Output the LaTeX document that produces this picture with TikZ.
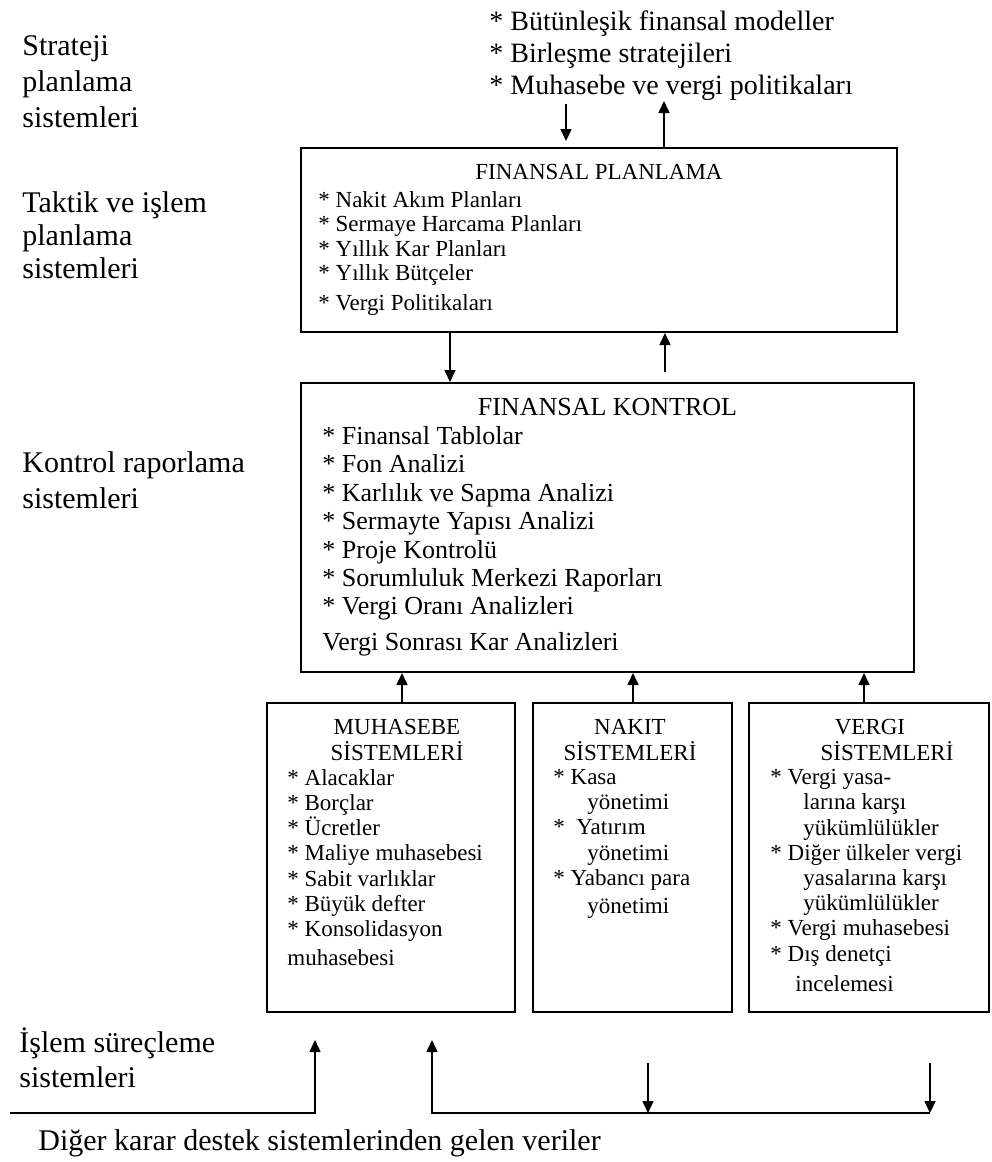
\documentclass[tikz,border=0pt]{standalone}
\usepackage{fontspec}
\setmainfont{Liberation Serif}
\usetikzlibrary{arrows.meta}

\tikzset{
  box/.style={draw, line width=1pt, inner sep=0pt},
  arr/.style={-{Triangle[length=6pt,width=5.5pt]}, line width=0.8pt},
  items/.style={align=left, anchor=north west, inner sep=0pt},
  side/.style={align=left, anchor=west, inner sep=0pt, font=\fontsize{15}{18}\selectfont},
  head/.style={align=center, inner sep=0pt},
  smalltext/.style={font=\fontsize{11.5}{12.6}\selectfont},
}

\begin{document}
\begin{tikzpicture}[x=0.5pt, y=-0.5pt]
    \useasboundingbox (0,0) rectangle (991,1162);

    % Levels on the left
    \node[side] (lvlstrat) at (22,82) {Strateji\\planlama\\sistemleri};
    \node[side, font=\fontsize{15}{16.5}\selectfont] (lvltact) at (22,235) {Taktik ve işlem\\planlama\\sistemleri};
    \node[side] (lvlctrl) at (22,480) {Kontrol raporlama\\sistemleri};
    \node[side, font=\fontsize{15}{17.5}\selectfont] (lvlproc) at (19,1058) {İşlem süreçleme\\sistemleri};

    % Strategic inputs
    \node[items, font=\fontsize{14}{16}\selectfont] (strat) at (489,10)
        {* Bütünleşik finansal modeller\\* Birleşme stratejileri\\* Muhasebe ve vergi politikaları};

    % Financial planning
    \node[box, minimum width=298pt, minimum height=92pt] (plan) at (599,240) {};
    \node[head, font=\fontsize{11.5}{12}\selectfont] (planhead) at (599,172) {FINANSAL PLANLAMA};
    \node[items, font=\fontsize{11.5}{12.2}\selectfont] (planlist) at (318,191)
        {* Nakit Akım Planları\\* Sermaye Harcama Planları\\* Yıllık Kar Planları\\* Yıllık Bütçeler\\[3pt]* Vergi Politikaları};

    % Financial control
    \node[box, minimum width=306.5pt, minimum height=144.5pt] (ctrl) at (607.5,527.5) {};
    \node[head, font=\fontsize{13}{14}\selectfont] (ctrlhead) at (607.5,407) {FINANSAL KONTROL};
    \node[items, font=\fontsize{13}{14.2}\selectfont] (ctrllist) at (322,426)
        {* Finansal Tablolar\\* Fon Analizi\\* Karlılık ve Sapma Analizi\\* Sermayte Yapısı Analizi\\* Proje Kontrolü\\* Sorumluluk Merkezi Raporları\\* Vergi Oranı Analizleri\\[3.4pt]Vergi Sonrası Kar Analizleri};

    % Transaction systems
    \node[box, minimum width=124pt, minimum height=154.5pt] (muh) at (391,857.5) {};
    \node[head, smalltext] (muhhead) at (397,740) {MUHASEBE\\SİSTEMLERİ};
    \node[items, smalltext] (muhlist) at (287,769)
        {* Alacaklar\\* Borçlar\\* Ücretler\\* Maliye muhasebesi\\* Sabit varlıklar\\* Büyük defter\\* Konsolidasyon\\[2pt]muhasebesi};

    \node[box, minimum width=99.5pt, minimum height=154.5pt] (cash) at (632.5,857.5) {};
    \node[head, smalltext] (cashhead) at (630,740) {NAKIT\\SİSTEMLERİ};
    \node[items, smalltext] (cashlist) at (553,769)
        {* Kasa\\\hspace*{17pt}yönetimi\\*~ Yatırım\\\hspace*{17pt}yönetimi\\* Yabancı para\\[1.5pt]\hspace*{17pt}yönetimi};

    \node[box, minimum width=120pt, minimum height=154.5pt] (tax) at (869,857.5) {};
    \node[head, smalltext] (taxhead) at (887,740) {VERGI\hspace*{17pt}\\SİSTEMLERİ};
    \node[items, smalltext] (taxlist) at (770,769)
        {* Vergi yasa-\\\hspace*{16.5pt}larına karşı\\\hspace*{16.5pt}yükümlülükler\\* Diğer ülkeler vergi\\\hspace*{16.5pt}yasalarına karşı\\\hspace*{16.5pt}yükümlülükler\\* Vergi muhasebesi\\* Dış denetçi\\[2.5pt]\hspace*{12.5pt}incelemesi};

    % Other data source
    \node[side, anchor=west] (other) at (38,1143) {Diğer karar destek sistemlerinden gelen veriler};

    % Arrows between levels
    \draw[arr] ([xshift=-16.5pt,yshift=21.5pt]plan.north) -- ([xshift=-16.5pt,yshift=3pt]plan.north);
    \draw[arr] ([xshift=32.5pt]plan.north) -- ([xshift=32.5pt,yshift=23pt]plan.north);
    \draw[arr] ([xshift=-74.5pt]plan.south) -- ([xshift=-78.75pt]ctrl.north);
    \draw[arr] ([xshift=28.75pt,yshift=5pt]ctrl.north) -- ([xshift=33pt]plan.south);
    \draw[arr] ([xshift=5.5pt]muh.north) -- ([xshift=-102.75pt]ctrl.south);
    \draw[arr] ([xshift=0.25pt]cash.north) -- ([xshift=12.75pt]ctrl.south);
    \draw[arr] ([xshift=-2.5pt]tax.north) -- ([xshift=128.25pt]ctrl.south);

    % Inputs at the bottom
    \coordinate (src1) at (10,1113);
    \coordinate (up1) at (315,1040);
    \coordinate (src2) at (432,1113);
    \coordinate (up2) at (432,1040);
    \coordinate (dn1) at (648,1063);
    \coordinate (dn2) at (930,1063);
    \draw[arr] (src1) -| (up1);
    \draw[arr] (dn2 |- src2) -- (src2) -- (up2);
    \draw[arr] (dn1) -- (dn1 |- src2);
    \draw[arr] (dn2) -- (dn2 |- src2);
\end{tikzpicture}
\end{document}
